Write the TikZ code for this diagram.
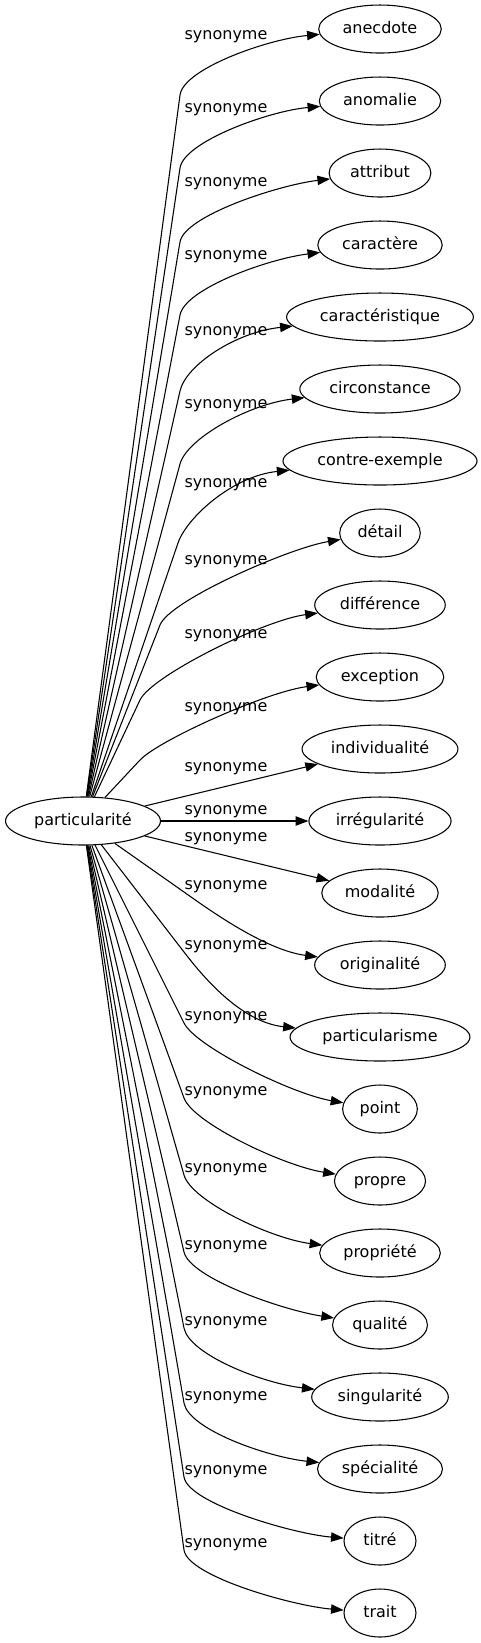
\documentclass[tikz,border=0pt]{standalone}
\usepackage{fontspec}
\setmainfont{DejaVu Sans}
\usetikzlibrary{%
	matrix,%
	calc,%
	shapes.geometric,%
	arrows.meta%
}
\tikzset{
	syn/.style={draw,ellipse,line width=.8pt,minimum width=54pt,minimum height=36pt,
		inner xsep=4.5pt,inner ysep=2pt,text height=9pt,text depth=2.5pt},
	lab/.style={inner sep=0pt,text height=9pt,text depth=2.5pt},
	rel/.style={line width=.8pt,-{Triangle[length=9.5pt,width=7pt]}},
	via/.style 2 args={to path={(\tikztostart) -- (#1) .. controls
		($(#1)!-20pt!(\tikztostart)$) and ($(\tikztotarget.west)+(-50,#2)$) .. (\tikztotarget)}}
}

\begin{document}
\begin{tikzpicture}[x=.75pt,y=-.75pt,font=\fontsize{12}{14}\selectfont]
			\useasboundingbox (0,0) rectangle (481,1643);
			\node[syn] (part) at (83,821) {particularité};
			\matrix[matrix of nodes,row sep={54pt,between origins},nodes={syn}] (m) at (380,821)
			{
				|[name=anecdote]| anecdote \\
				|[name=anomalie]| anomalie \\
				|[name=attribut]| attribut \\
				|[name=caractere]| caractère \\
				|[name=caracteristique]| caractéristique \\
				|[name=circonstance]| circonstance \\
				|[name=contre]| contre-exemple \\
				|[name=detail]| détail \\
				|[name=difference]| différence \\
				|[name=exception]| exception \\
				|[name=individualite]| individualité \\
				|[name=irregularite]| irrégularité \\
				|[name=modalite]| modalité \\
				|[name=originalite]| originalité \\
				|[name=particularisme]| particularisme \\
				|[name=point]| point \\
				|[name=propre]| propre \\
				|[name=propriete]| propriété \\
				|[name=qualite]| qualité \\
				|[name=singularite]| singularité \\
				|[name=specialite]| spécialité \\
				|[name=titre]| titré \\
				|[name=trait]| trait \\
			};
			% edge labels
			\node[lab] (l1) at (226,35) {synonyme};
			\node[lab] (l2) at (226,108) {synonyme};
			\node[lab] (l3) at (226,182) {synonyme};
			\node[lab] (l4) at (226,255) {synonyme};
			\node[lab] (l5) at (226,331) {synonyme};
			\node[lab] (l6) at (226,404) {synonyme};
			\node[lab] (l7) at (226,483) {synonyme};
			\node[lab] (l8) at (226,560) {synonyme};
			\node[lab] (l9) at (226,634) {synonyme};
			\node[lab] (l10) at (226,707) {synonyme};
			\node[lab] (l11) at (226,767) {synonyme};
			\node[lab] (l12) at (226,810) {synonyme};
			\node[lab] (l13) at (226,837) {synonyme};
			\node[lab] (l14) at (226,885) {synonyme};
			\node[lab] (l15) at (226,945) {synonyme};
			\node[lab] (l16) at (226,1016) {synonyme};
			\node[lab] (l17) at (226,1091) {synonyme};
			\node[lab] (l18) at (226,1168) {synonyme};
			\node[lab] (l19) at (226,1245) {synonyme};
			\node[lab] (l20) at (226,1321) {synonyme};
			\node[lab] (l21) at (226,1396) {synonyme};
			\node[lab] (l22) at (226,1470) {synonyme};
			\node[lab] (l23) at (226,1543) {synonyme};
			\draw[rel] (part) edge[via={180,95}{10}] (anecdote)
			(part) edge[via={180,168}{10}] (anomalie)
			(part) edge[via={180,242}{12}] (attribut)
			(part) edge[via={180,315}{14}] (caractere)
			(part) edge[via={180,391}{15}] (caracteristique)
			(part) edge[via={180,464}{15}] (circonstance)
			(part) edge[via={178,543}{15}] (contre)
			(part) edge[via={160,625}{15}] (detail)
			(part) edge[via={140,700}{15}] (difference)
			(part) edge[via={140,760}{15}] (exception)
			(part) edge (individualite)
			(part) edge (irregularite)
			(part) edge (modalite)
			(part) edge[via={184,892}{-15}] (originalite)
			(part) edge[via={184,952}{-15}] (particularisme)
			(part) edge[via={184,1023}{-15}] (point)
			(part) edge[via={184,1098}{-15}] (propre)
			(part) edge[via={184,1175}{-15}] (propriete)
			(part) edge[via={184,1252}{-15}] (qualite)
			(part) edge[via={184,1328}{-14}] (singularite)
			(part) edge[via={184,1403}{-12}] (specialite)
			(part) edge[via={184,1477}{-7}] (titre)
			(part) edge[via={184,1550}{-7}] (trait)
			;
\end{tikzpicture}
\end{document}
